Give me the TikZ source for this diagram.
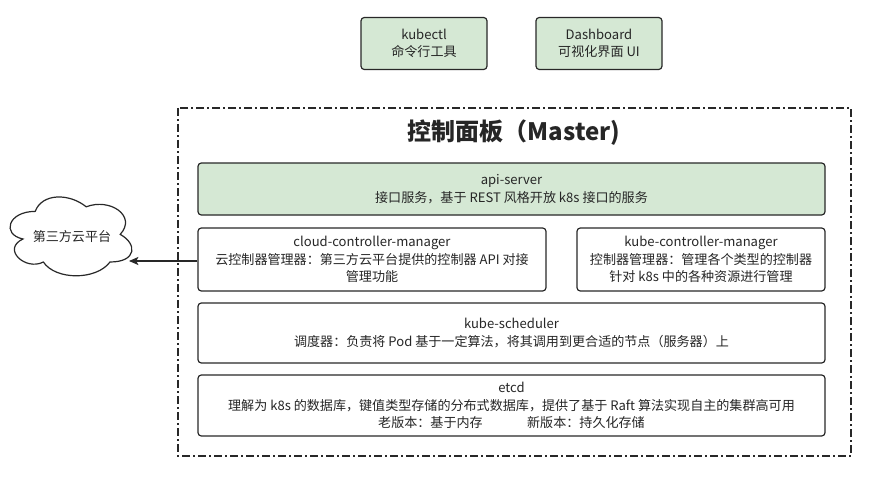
\documentclass[tikz,border=0pt]{standalone}
\usepackage{fontspec}
\setmainfont{Noto Sans CJK SC}
\usetikzlibrary{arrows.meta}
\definecolor{boxgreen}{RGB}{213,232,212}
\definecolor{edgegray}{RGB}{40,40,40}
\begin{document}
\begin{tikzpicture}[x=0.75pt,y=-0.75pt,
  compbox/.style={draw=edgegray,line width=0.9pt,rounded corners=2.5pt,align=center,
    font=\fontsize{9.8pt}{13pt}\selectfont,inner sep=0pt,text=black!85},
  greenbox/.style={compbox,fill=boxgreen},
  whitebox/.style={compbox,fill=white}]
\useasboundingbox (0,0) rectangle (879,492);
\fill[white] (0,0) rectangle (879,492);

% client tools
\node[greenbox,minimum width=126*0.75pt,minimum height=52*0.75pt] (kubectl) at (424,43.5)
  {kubectl\\命令行工具};
\node[greenbox,minimum width=126*0.75pt,minimum height=52*0.75pt] (dash) at (599,43.5)
  {Dashboard\\可视化界面 UI};

% master frame
\draw[edgegray,line width=0.9pt,dash pattern=on 6pt off 2.5pt on 1pt off 2.5pt]
  (178,108) rectangle (851,456);
\node[font=\fontsize{18pt}{21pt}\selectfont\bfseries,text=black!85] (title) at (514,133)
  {控制面板（Master)};

% components
\node[greenbox,minimum width=627*0.75pt,minimum height=52*0.75pt] (api) at (511.5,189)
  {api-server\\接口服务，基于 REST 风格开放 k8s 接口的服务};
\node[whitebox,minimum width=348*0.75pt,minimum height=63*0.75pt] (ccm) at (372,259.5)
  {cloud-controller-manager\\云控制器管理器：第三方云平台提供的控制器 API 对接\\管理功能};
\node[whitebox,minimum width=248*0.75pt,minimum height=63*0.75pt] (kcm) at (701,259.5)
  {kube-controller-manager\\控制器管理器：管理各个类型的控制器\\针对 k8s 中的各种资源进行管理};
\node[whitebox,minimum width=627*0.75pt,minimum height=60*0.75pt] (sched) at (511.5,333)
  {kube-scheduler\\调度器：负责将 Pod 基于一定算法，将其调用到更合适的节点（服务器）上};
\node[whitebox,minimum width=627*0.75pt,minimum height=61*0.75pt] (etcd) at (511.5,405.5)
  {etcd\\理解为 k8s 的数据库，键值类型存储的分布式数据库，提供了基于 Raft 算法实现自主的集群高可用\\老版本：基于内存\hspace{3.4em}新版本：持久化存储};

% third-party cloud (puffed outline in a 136 x 92 frame)
\begin{scope}[shift={(1.2,188.4)},x=136*0.75pt,y=-92*0.75pt]
  \draw[edgegray,line width=0.9pt,fill=white]
    (0.25,0.25) .. controls (0.05,0.25) and (0,0.5) .. (0.16,0.55)
    .. controls (0,0.66) and (0.18,0.9) .. (0.31,0.8)
    .. controls (0.4,1) and (0.7,1) .. (0.8,0.8)
    .. controls (1,0.8) and (1,0.6) .. (0.875,0.5)
    .. controls (1,0.3) and (0.8,0.1) .. (0.625,0.2)
    .. controls (0.5,0.05) and (0.3,0.05) .. (0.25,0.25) -- cycle;
\end{scope}
\node[font=\fontsize{9.8pt}{13pt}\selectfont,text=black!85] (cloud) at (72,236.5) {第三方云平台};
\coordinate (cloudtip) at (129,261);

\draw[edgegray,line width=0.9pt,-{Stealth[length=7pt,width=6pt,inset=1.5pt]}]
  (ccm.west |- cloudtip) -- (cloudtip);
\end{tikzpicture}
\end{document}
